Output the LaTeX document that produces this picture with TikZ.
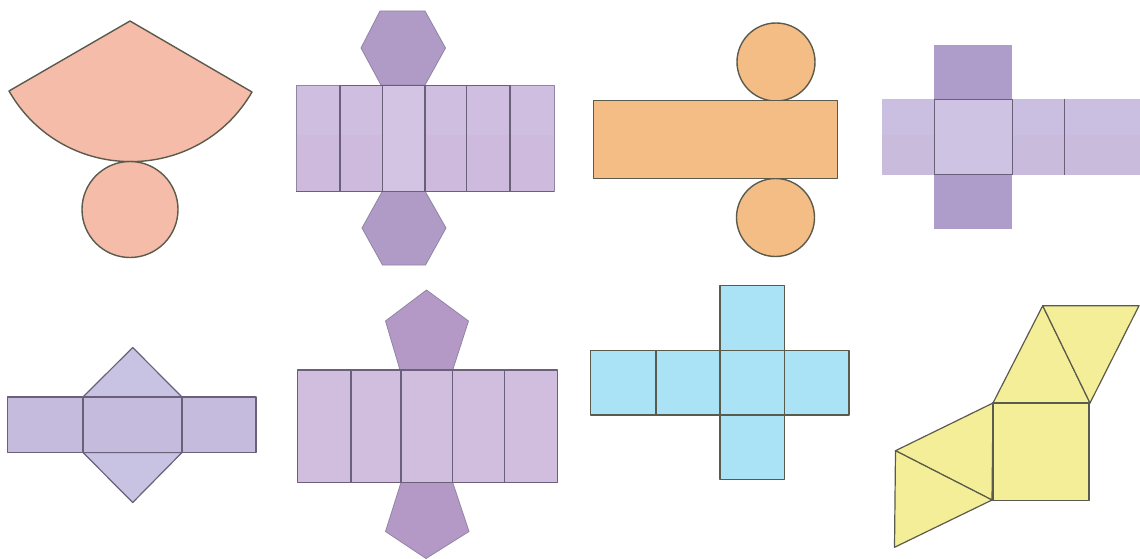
\documentclass[tikz,border=0pt]{standalone}
\definecolor{edgedark}{HTML}{5A5B4C}
\definecolor{edgepurple}{HTML}{6A6079}
\definecolor{edgesoft}{HTML}{8F85A5}
\definecolor{pinkfill}{HTML}{F4BCA9}
\definecolor{orangefill}{HTML}{F5BD86}
\definecolor{hexfill}{HTML}{B09AC6}
\definecolor{stripfill}{HTML}{CFBEE0}
\definecolor{striplow}{HTML}{CDBADC}
\definecolor{stripmid}{HTML}{D3C4E4}
\definecolor{flapfill}{HTML}{AE9CCB}
\definecolor{crossfill}{HTML}{CBBFE1}
\definecolor{crosslow}{HTML}{C8BBDC}
\definecolor{crossmid}{HTML}{CFC3E4}
\definecolor{triofill}{HTML}{C5BBDC}
\definecolor{triflap}{HTML}{C8C3E3}
\definecolor{pentstrip}{HTML}{D1BEDE}
\definecolor{pentfill}{HTML}{B499C7}
\definecolor{bluefill}{HTML}{ABE3F6}
\definecolor{yellowfill}{HTML}{F5EE98}
\tikzset{
  x=1pt,y=-1pt,
  pinkface/.style={fill=pinkfill,draw=edgedark,line width=1.4pt,line join=round},
  orangeface/.style={fill=orangefill,draw=edgedark,line width=1.4pt,line join=round},
  purpleface/.style={draw=edgepurple,line width=1.2pt,line join=round},
  softline/.style={draw=edgepurple,line width=.8pt},
  purpleline/.style={draw=edgepurple,line width=1.2pt},
  softedge/.style={draw=edgesoft,line width=.8pt,line join=round},
  blueface/.style={fill=bluefill,draw=edgedark,line width=1.2pt,line join=round},
  yellowface/.style={fill=yellowfill,draw=edgedark,line width=1.2pt,line join=round},
}
\begin{document}
\begin{tikzpicture}
\useasboundingbox[fill=white] (0,0) rectangle (1140,559);
% cone
\path[pinkface] (130,21) -- (252,92) .. controls (198,185) and (63,185) .. (9,91) -- cycle;
\path[pinkface] (130,209.5) circle[radius=48pt];
% hexagonal prism
\path[fill=hexfill,softedge] (380,11) -- (425,11) -- (445.5,48) -- (425,85) -- (381,85) -- (361,48) -- cycle;
\path[fill=hexfill,softedge] (382.5,191) -- (425,191) -- (446,228) -- (425.5,265) -- (382.5,265) -- (362,228) -- cycle;
\path[fill=stripfill] (296,85) rectangle (554,135);
\path[fill=striplow] (296,135) rectangle (554,191);
\path[fill=stripmid] (382.5,85) rectangle (425,191);
\draw[softedge] (296,85) rectangle (554,191);
\foreach \xx in {340,382.5,425,466.5,510} \draw[purpleline] (\xx,85) -- (\xx,191);
\draw[softline] (296,191) -- (554,191);
\draw[softline] (340,85) -- (510,85);
% cylinder
\path[orangeface] (776,62) circle[radius=39pt];
\path[orangeface] (775.5,217.5) circle[radius=39pt];
\path[orangeface] (593.5,100.5) rectangle (837.5,178.5);
% cuboid
\path[fill=flapfill] (934,45) rectangle (1012,99);
\path[fill=flapfill] (934,174.5) rectangle (1012,229);
\path[fill=crossfill] (881.5,99) rectangle (1140,135);
\path[fill=crosslow] (881.5,135) rectangle (1140,174.5);
\path[fill=crossmid] (934.5,99) rectangle (1012,174.5);
\foreach \xx in {934.5,1012,1064.5} \draw[softline] (\xx,99) -- (\xx,174.5);
\draw[softline] (934.5,99) -- (1012,99) (934.5,174.5) -- (1012,174.5);
% triangular prism
\path[fill=triflap,purpleface] (83,397) -- (132.7,347.5) -- (182,397) -- cycle;
\path[fill=triflap,purpleface] (83,452.5) -- (132.7,502.5) -- (182,452.5) -- cycle;
\path[fill=triofill,purpleface] (7.5,397) rectangle (256,452.5);
\foreach \xx in {83,182} \draw[purpleline] (\xx,397) -- (\xx,452.5);
% pentagonal prism
\path[fill=pentfill,softedge] (400,370) -- (452.7,370) -- (468.5,321) -- (426.5,290) -- (385.5,321) -- cycle;
\path[fill=pentfill,softedge] (401,482.5) -- (452.7,482.5) -- (469,531.5) -- (426,558.5) -- (385.5,531.5) -- cycle;
\path[fill=pentstrip,purpleface] (297.5,370) rectangle (557.5,482.5);
\foreach \xx in {351,401,452.7,504.7} \draw[purpleline] (\xx,370) -- (\xx,482.5);
% cube
\path[blueface] (720,285.7) rectangle (784.5,479.3);
\path[blueface] (590.7,350.3) rectangle (849,415);
\foreach \xx in {656,720,784.5} \draw[edgedark,line width=1.2pt] (\xx,350.3) -- (\xx,415);
% square pyramid
\path[yellowface] (993,403) -- (1042.7,305.7) -- (1090,403) -- cycle;
\path[yellowface] (1042.7,305.7) -- (1139,305.7) -- (1090,403) -- cycle;
\path[yellowface] (993,403) -- (895.5,450.7) -- (992,500) -- cycle;
\path[yellowface] (895.5,450.7) -- (894.5,547.3) -- (992,500) -- cycle;
\path[yellowface] (993,403) rectangle (1089,500.7);
\end{tikzpicture}
\end{document}
